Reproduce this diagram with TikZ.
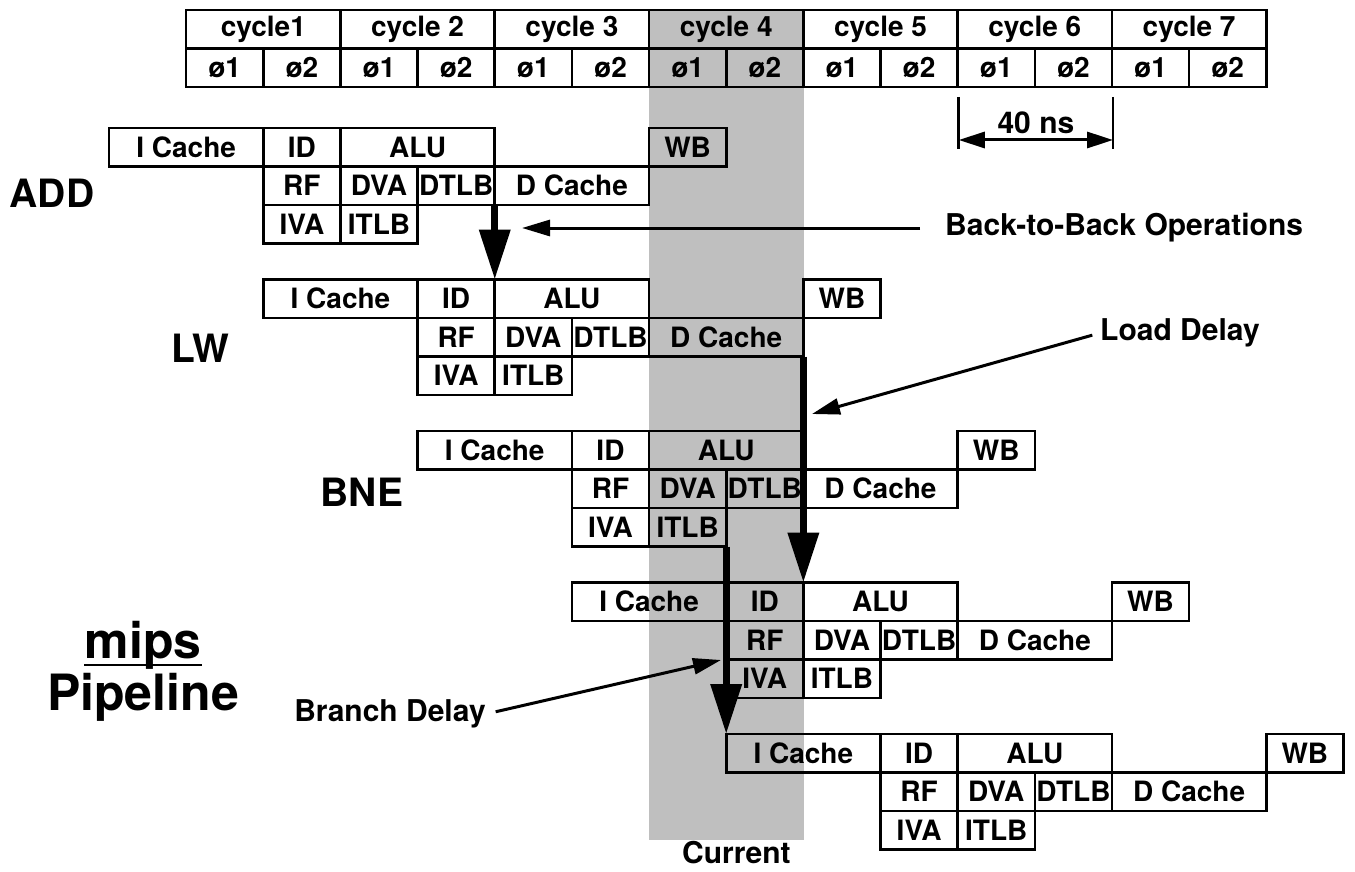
\documentclass[tikz,border=0pt]{standalone}
\usepackage{fontspec}
\setmainfont{TeX Gyre Heros}
\usetikzlibrary{arrows.meta,positioning}

\begin{document}
\begin{tikzpicture}[x=1pt,y=-1pt,node distance=0pt,
  box/.style={draw,line width=2.6pt,inner sep=0pt,outer sep=0pt,minimum width=77.15pt,minimum height=38.5pt,font=\fontsize{28}{30}\selectfont\bfseries},
  wide/.style={minimum width=154.3pt},
  lbl/.style={font=\fontsize{30}{34}\selectfont\bfseries,inner sep=0pt},
  big/.style={font=\fontsize{39}{42}\selectfont\bfseries,inner sep=0pt},
  fat/.style={line width=7pt,-{Triangle[length=50pt,width=30pt]}},
  thin/.style={line width=3pt,-{Triangle[length=28pt,width=16pt]}}]
\useasboundingbox (0,0) rectangle (1355,872);
% cycle 4 band
\node[fill=black!25,inner sep=0pt,minimum width=154.3pt,minimum height=830pt,anchor=north west] (band) at (649.05,10) {};
\node[lbl,below=1pt of band.south,xshift=10pt] (cur) {Current};
% clock header
\foreach \c/\t in {1/cycle1,2/cycle 2,3/cycle 3,4/cycle 4,5/cycle 5,6/cycle 6,7/cycle 7}{
  \node[box,wide,anchor=north west] (c\c) at ({186.15+(\c-1)*154.3},10) {\t};
  \node[box,anchor=north west] (c\c-a) at (c\c.south west) {ø1};
  \node[box,right=of c\c-a] (c\c-b) {ø2};
}
\coordinate (ns-l) at (958.75,140);
\coordinate (ns-r) at (1113.05,140);
\draw[line width=2.6pt] (ns-l) ++(0,-43) -- ++(0,52);
\draw[line width=2.6pt] (ns-r) ++(0,-43) -- ++(0,52);
\draw[line width=3pt,{Triangle[length=26pt,width=16pt]}-{Triangle[length=26pt,width=16pt]}] (ns-l) -- (ns-r) node[midway,above=5pt,lbl] {40 ns};
% pipeline rows
\foreach \r/\k/\n in {add/0/0,lw/2/1,bne/4/2,ia/6/3,ib/8/4}{
  \node[box,wide,anchor=north west] (\r-ic) at ({109+\k*77.15},{128+\n*151.5}) {I Cache};
  \node[box,right=of \r-ic] (\r-id) {ID};
  \node[box,wide,right=of \r-id] (\r-alu) {ALU};
  \node[box,below=of \r-id] (\r-rf) {RF};
  \node[box,right=of \r-rf] (\r-dva) {DVA};
  \node[box,right=of \r-dva] (\r-dtlb) {DTLB};
  \node[box,wide,right=of \r-dtlb] (\r-dc) {D Cache};
  \node[box,anchor=south west] (\r-wb) at (\r-dc.north east) {WB};
  \node[box,below=of \r-rf] (\r-iva) {IVA};
  \node[box,right=of \r-iva] (\r-itlb) {ITLB};
}
\node[big] (l-add) at (52,193) {ADD};
\node[big] (l-lw) at (200,348) {LW};
\node[big] (l-bne) at (362,492) {BNE};
\node[font=\fontsize{50}{54}\selectfont\bfseries,inner sep=0pt] (mips) at (143,645) {mips};
\draw[line width=2.6pt] ([yshift=-7pt]mips.base west) -- ([yshift=-7pt]mips.base east);
\node[font=\fontsize{50}{54}\selectfont\bfseries,inner sep=0pt] (pipe) at (143,697) {Pipeline};
% hazards
\draw[fat] (add-dtlb.south east) -- (lw-alu.north west);
\draw[fat] (lw-dc.south east) -- (ia-alu.north west);
\draw[fat] (bne-itlb.south east) -- (ib-ic.north west);
\node[lbl,anchor=west] (b2b) at (945,228) {Back-to-Back Operations};
\node[lbl,anchor=west] (ld) at (1100,333) {Load Delay};
\node[lbl] (br) at (390,714) {Branch Delay};
\coordinate (b2b-tip) at (522,228);
\coordinate (ld-tip) at (812,414);
\coordinate (br-tip) at (721,660);
\draw[thin,shorten <=25pt] (b2b) -- (b2b-tip);
\draw[thin,shorten <=8pt] (ld.west) -- (ld-tip);
\draw[thin,shorten <=10pt] (br.east) -- (br-tip);
\end{tikzpicture}
\end{document}
